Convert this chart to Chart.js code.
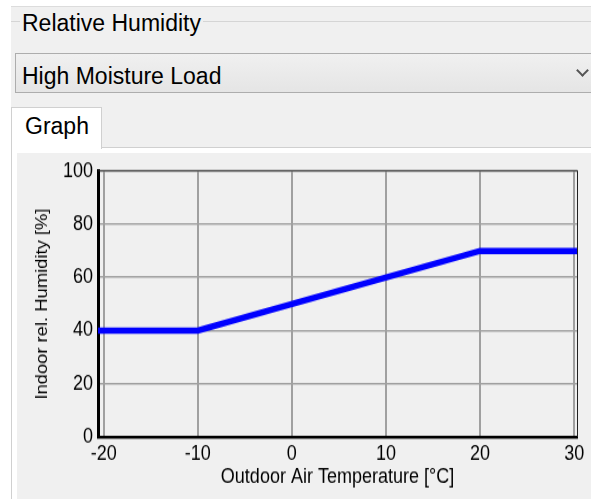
<!DOCTYPE html>
<html>
<head>
<meta charset="utf-8">
<script src="https://cdn.jsdelivr.net/npm/chart.js@4/dist/chart.umd.min.js"></script>
<style>
    html, body { margin: 0; padding: 0; }
    body {
        width: 591px; height: 499px; overflow: hidden; position: relative;
        background: #fff; font-family: "Liberation Sans", Arial, sans-serif; color: #000;
    }
    .abs { position: absolute; }
    .txt { font-size: 23px; line-height: 23px; white-space: nowrap; }
    .gline { position: absolute; height: 1px; background: #d5d5d5; }
</style>
</head>
<body>
    <!-- ウィンドウの背景 -->
    <div class="abs" style="left:11px; top:6px; right:0; bottom:0; background:#f0f0f0; border-top:1px solid #dcdcdc;"></div>

    <!-- グループボックスの見出し -->
    <div class="gline" style="left:11px; width:9px; top:21px;"></div>
    <div class="gline" style="left:203px; right:0; top:21px;"></div>
    <div class="abs txt" style="left:22px; top:12px;">Relative Humidity</div>

    <!-- ドロップダウン -->
    <div class="abs" style="left:15px; top:53px; width:590px; height:38px; border:1px solid #adadad; background:linear-gradient(#f0f0f0, #e5e5e5);"></div>
    <div class="abs txt" style="left:22px; top:65px;">High Moisture Load</div>
    <div class="abs" style="left:578px; top:66px; width:7px; height:7px; border-right:2px solid #555; border-bottom:2px solid #555; transform:rotate(45deg);"></div>

    <!-- タブ -->
    <div class="abs" style="left:11px; top:147px; right:-2px; bottom:-2px; background:#fff; border:1px solid #d0d0d0;"></div>
    <div class="abs" style="left:11px; top:107px; width:89px; height:41px; background:#fff; border:1px solid #d0d0d0; border-bottom:none;"></div>
    <div class="abs txt" style="left:25px; top:115px;">Graph</div>
    <div class="abs" style="left:17px; top:153px; right:0; bottom:0; background:#f0f0f0;"></div>

    <!-- グラフ（縦方向に少し引き伸ばして表示） -->
    <div class="abs" style="left:17px; top:153px; width:574px; height:346px; overflow:hidden;">
        <div style="transform:scaleY(1.1495); transform-origin:0 0;">
            <canvas id="myChart" width="574" height="301"></canvas>
        </div>
    </div>

<script>
// 軸の表示範囲（枠は目盛より少し外側まである）
const xMin = -20.6;
const xMax = 30.3;
// グラフのデータ
const tempPoints = [-20.6, -10, 20, 30.3];   // 外気温 [°C]
const humidityPoints = [40, 40, 70, 70];     // 室内相対湿度 [%]
const xTickValues = [-20, -10, 0, 10, 20, 30];
const yTickValues = [0, 20, 40, 60, 80, 100];

// プロット領域の上と右の枠線
const plotFrame = {
    id: "plotFrame",
    afterDraw(chart) {
        const { ctx, chartArea: a } = chart;
        ctx.save();
        ctx.strokeStyle = "#222";
        ctx.lineWidth = 1;
        ctx.beginPath();
        ctx.moveTo(a.left, a.top - 0.5);
        ctx.lineTo(a.right + 0.5, a.top - 0.5);
        ctx.lineTo(a.right + 0.5, a.bottom);
        ctx.stroke();
        ctx.restore();
    },
};

function drawChart() {
    Chart.defaults.font.family = '"Liberation Sans", Arial, sans-serif';
    Chart.defaults.color = "#000";

    const ctx = document.getElementById("myChart");
    new Chart(ctx, {
        type: "line",
        data: {
            datasets: [
                {
                    data: tempPoints.map((t, i) => ({ x: t, y: humidityPoints[i] })),
                    borderColor: "#0000ff",
                    borderWidth: 5.5,
                    pointRadius: 0,
                    tension: 0,
                    fill: false,
                },
            ],
        },
        options: {
            responsive: false,
            animation: false,
            devicePixelRatio: 1,
            layout: { padding: { top: 14, right: 14, left: 0, bottom: 0 } },
            plugins: { legend: { display: false }, tooltip: { enabled: false } },
            scales: {
                x: {
                    type: "linear",
                    min: xMin,
                    max: xMax,
                    afterBuildTicks: (s) => { s.ticks = xTickValues.map((v) => ({ value: v })); },
                    afterFit: (s) => { s.height = 54; },
                    grid: { color: "#a0a0a0", lineWidth: 2, drawTicks: false },
                    border: { color: "#000", width: 2.5 },
                    ticks: { color: "#000", font: { size: 18 }, padding: 4, maxRotation: 0, autoSkip: false },
                    title: {
                        display: true,
                        text: "Outdoor Air Temperature [°C]",
                        color: "#000",
                        font: { size: 18 },
                        padding: { top: 0, bottom: 8 },
                    },
                },
                y: {
                    type: "linear",
                    min: 0,
                    max: 100,
                    afterBuildTicks: (s) => { s.ticks = yTickValues.map((v) => ({ value: v })); },
                    afterFit: (s) => { s.width = 81; },
                    grid: { color: "#a0a0a0", lineWidth: 1.6, drawTicks: false },
                    border: { color: "#000", width: 3 },
                    ticks: { color: "#000", font: { size: 18 }, padding: 5, autoSkip: false },
                    title: {
                        display: true,
                        text: "Indoor rel. Humidity [%]",
                        color: "#000",
                        font: { size: 16 },
                        padding: { top: 16, bottom: 0 },
                    },
                },
            },
        },
        plugins: [plotFrame],
    });
}

window.onload = function () {
    drawChart();
};
</script>
</body>
</html>
